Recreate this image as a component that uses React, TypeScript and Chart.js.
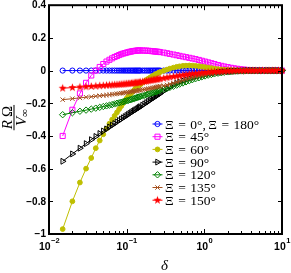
import React, { useEffect, useRef } from "react";
import { Chart, registerables } from "chart.js";
import { drawPoint } from "chart.js/helpers";

Chart.register(...registerables);

const W = 291;
const H = 273;

// delta (x values)
const delta = [
  0.015, 0.02, 0.025, 0.03, 0.035, 0.04, 0.045, 0.05, 0.055, 0.06, 0.065, 0.07, 0.075, 0.08,
  0.085, 0.09, 0.095, 0.1, 0.105, 0.11, 0.115, 0.12, 0.125, 0.13, 0.135, 0.14, 0.145, 0.15,
  0.16, 0.17, 0.18, 0.19, 0.2, 0.21, 0.22, 0.23, 0.24, 0.25, 0.26, 0.27,
  0.3, 0.33, 0.36, 0.4, 0.44, 0.48, 0.53, 0.58, 0.64, 0.7,
  0.77, 0.85, 0.93, 1.02, 1.12, 1.23, 1.35, 1.5, 1.65, 1.8,
  2, 2.2, 2.4, 2.65, 2.9, 3.2, 3.5, 3.85, 4.2, 4.6,
  5.1, 5.6, 6.2, 6.8, 7.5, 8.2, 9, 10,
];

const xi0 = [
  0, 0, 0, 0, 0, 0, 0, 0, 0, 0, 0, 0, 0, 0, 0, 0, 0, 0, 0, 0, 0, 0, 0, 0, 0, 0, 0, 0,
  0, 0, 0, 0, 0, 0, 0, 0, 0, 0, 0, 0,
  0, 0, 0, 0, 0, 0, 0, 0, 0, 0,
  0, 0, 0, 0, 0, 0, 0, 0, 0, 0,
  0, 0, 0, 0, 0, 0, 0, 0, 0, 0,
  0, 0, 0, 0, 0, 0, 0, 0,
];

const xi45 = [
  -0.4, -0.24, -0.14, -0.075, -0.03, 0.0, 0.022, 0.04, 0.055, 0.066, 0.075, 0.083, 0.089, 0.095,
  0.1, 0.104, 0.107, 0.11, 0.113, 0.115, 0.117, 0.119, 0.12, 0.121, 0.122, 0.123, 0.123, 0.123,
  0.123, 0.122, 0.122, 0.121, 0.12, 0.119, 0.118, 0.117, 0.116, 0.115, 0.114, 0.113,
  0.11, 0.106, 0.102, 0.098, 0.094, 0.09, 0.086, 0.082, 0.078, 0.074,
  0.07, 0.065, 0.06, 0.055, 0.05, 0.045, 0.04, 0.034, 0.029, 0.025,
  0.021, 0.017, 0.014, 0.011, 0.008, 0.006, 0.004, 0.003, 0.002, 0.001,
  0, 0, 0, 0, 0, 0, 0, 0,
];

const xi60 = [
  -0.97, -0.8, -0.685, -0.6, -0.535, -0.475, -0.428, -0.39, -0.355, -0.325, -0.3, -0.277, -0.256, -0.236,
  -0.218, -0.2, -0.184, -0.17, -0.158, -0.147, -0.137, -0.128, -0.119, -0.111, -0.103, -0.096, -0.09, -0.084,
  -0.074, -0.065, -0.057, -0.05, -0.043, -0.037, -0.031, -0.026, -0.021, -0.017, -0.013, -0.009,
  -0.001, 0.006, 0.012, 0.018, 0.023, 0.026, 0.029, 0.03, 0.031, 0.03,
  0.029, 0.027, 0.024, 0.021, 0.018, 0.015, 0.012, 0.009, 0.007, 0.005,
  0.004, 0.003, 0.002, 0.001, 0, 0, 0, 0, 0, 0,
  0, 0, 0, 0, 0, 0, 0, 0,
];

const xi90 = [
  -0.555, -0.51, -0.475, -0.447, -0.423, -0.403, -0.385, -0.37, -0.357, -0.345, -0.334, -0.324, -0.314, -0.305,
  -0.297, -0.289, -0.282, -0.275, -0.268, -0.262, -0.256, -0.25, -0.245, -0.24, -0.235, -0.23, -0.225, -0.221,
  -0.212, -0.204, -0.196, -0.188, -0.181, -0.174, -0.168, -0.162, -0.156, -0.15, -0.145, -0.14,
  -0.125, -0.112, -0.1, -0.088, -0.078, -0.07, -0.062, -0.055, -0.048, -0.042,
  -0.037, -0.032, -0.028, -0.024, -0.021, -0.018, -0.015, -0.012, -0.01, -0.008,
  -0.006, -0.005, -0.004, -0.003, -0.002, -0.001, 0, 0, 0, 0,
  0, 0, 0, 0, 0, 0, 0, 0,
];

const xi120 = [
  -0.27, -0.258, -0.249, -0.242, -0.236, -0.23, -0.225, -0.22, -0.216, -0.212, -0.208, -0.204, -0.2, -0.197,
  -0.194, -0.191, -0.188, -0.185, -0.182, -0.179, -0.176, -0.173, -0.171, -0.168, -0.166, -0.163, -0.161, -0.159,
  -0.155, -0.151, -0.147, -0.143, -0.14, -0.137, -0.134, -0.131, -0.128, -0.125, -0.122, -0.12,
  -0.115, -0.109, -0.103, -0.096, -0.089, -0.083, -0.076, -0.069, -0.062, -0.056,
  -0.05, -0.044, -0.038, -0.033, -0.028, -0.024, -0.02, -0.016, -0.013, -0.01,
  -0.008, -0.006, -0.004, -0.003, -0.002, -0.001, 0, 0, 0, 0,
  0, 0, 0, 0, 0, 0, 0, 0,
];

const xi135 = [
  -0.178, -0.172, -0.167, -0.163, -0.16, -0.157, -0.154, -0.152, -0.15, -0.148, -0.146, -0.144, -0.142, -0.14,
  -0.138, -0.137, -0.135, -0.134, -0.132, -0.131, -0.129, -0.128, -0.126, -0.125, -0.123, -0.122, -0.12, -0.119,
  -0.117, -0.115, -0.113, -0.111, -0.109, -0.107, -0.105, -0.103, -0.101, -0.099, -0.097, -0.095,
  -0.092, -0.088, -0.083, -0.077, -0.071, -0.066, -0.06, -0.054, -0.049, -0.044,
  -0.039, -0.034, -0.03, -0.026, -0.022, -0.019, -0.016, -0.013, -0.01, -0.008,
  -0.006, -0.004, -0.003, -0.002, -0.001, 0, 0, 0, 0, 0,
  0, 0, 0, 0, 0, 0, 0, 0,
];

const xi150 = [
  -0.108, -0.104, -0.101, -0.099, -0.097, -0.095, -0.093, -0.092, -0.09, -0.089, -0.088, -0.087, -0.086, -0.085,
  -0.084, -0.083, -0.082, -0.081, -0.08, -0.079, -0.078, -0.077, -0.076, -0.075, -0.074, -0.073, -0.072, -0.071,
  -0.069, -0.067, -0.065, -0.063, -0.061, -0.059, -0.057, -0.056, -0.054, -0.053, -0.051, -0.05,
  -0.047, -0.043, -0.04, -0.037, -0.034, -0.031, -0.028, -0.025, -0.022, -0.02,
  -0.018, -0.016, -0.014, -0.012, -0.01, -0.009, -0.007, -0.006, -0.005, -0.004,
  -0.003, -0.002, -0.001, 0, 0, 0, 0, 0, 0, 0,
  0, 0, 0, 0, 0, 0, 0, 0,
];

const seriesValues = [xi0, xi45, xi60, xi90, xi120, xi135, xi150];
const seriesLabels = [
  "Ξ = 0°, Ξ = 180°",
  "Ξ = 45°",
  "Ξ = 60°",
  "Ξ = 90°",
  "Ξ = 120°",
  "Ξ = 135°",
  "Ξ = 150°",
];

const yTicks = [-1, -0.8, -0.6, -0.4, -0.2, 0, 0.2, 0.4];
const xMajorExponents = [-2, -1, 0, 1];

function makeStar(color: string, r: number): HTMLCanvasElement {
  const s = Math.ceil(r * 2) + 2;
  const c = document.createElement("canvas");
  c.width = s;
  c.height = s;
  const g = c.getContext("2d")!;
  g.fillStyle = color;
  g.beginPath();
  for (let i = 0; i < 10; i++) {
    const rr = i % 2 ? r * 0.42 : r;
    const a = -Math.PI / 2 + (i * Math.PI) / 5;
    g.lineTo(s / 2 + rr * Math.cos(a), s / 2 + rr * Math.sin(a));
  }
  g.closePath();
  g.fill();
  return c;
}

function fmtY(v: number): string {
  if (v === 0) return "0";
  const s = Math.abs(v) === 1 ? "1" : Math.abs(v).toFixed(1);
  return (v < 0 ? "\u2212" : "") + s;
}

export default function App() {
  const ref = useRef<HTMLCanvasElement>(null);

  useEffect(() => {
    const canvas = ref.current!;
    const star = makeStar("#ff0000", 4.2);
    const styles: any[] = [
      { color: "#0000ff", pointStyle: "circle", radius: 2.6, fill: false, rotation: 0 },
      { color: "#ff00ff", pointStyle: "rect", radius: 3.6, fill: false, rotation: 0 },
      { color: "#bfbf00", pointStyle: "circle", radius: 2.4, fill: true, rotation: 0 },
      { color: "#000000", pointStyle: "triangle", radius: 3.4, fill: false, rotation: 90 },
      { color: "#008000", pointStyle: "rectRot", radius: 3.2, fill: false, rotation: 0 },
      { color: "#a5501e", pointStyle: "crossRot", radius: 3.1, fill: false, rotation: 0 },
      { color: "#ff0000", pointStyle: star, radius: 4.2, fill: true, rotation: 0 },
    ];

    const datasets = seriesValues.map((vals, i) => {
      const st = styles[i];
      return {
        label: seriesLabels[i],
        data: delta.map((d, k) => ({ x: d, y: vals[k] })),
        showLine: true,
        borderColor: st.color,
        borderWidth: 1,
        backgroundColor: st.color,
        pointStyle: st.pointStyle,
        pointRadius: st.radius,
        pointRotation: st.rotation,
        pointBorderColor: st.color,
        pointBorderWidth: 1,
        pointBackgroundColor: st.fill ? st.color : "rgba(0,0,0,0)",
        tension: 0,
        order: 7 - i,
        clip: 8,
      };
    });

    const axesPlugin = {
      id: "matlabAxes",
      afterDraw(chart: any) {
        const { ctx, chartArea } = chart;
        const { left, right, top, bottom } = chartArea;
        const xs = chart.scales.x;
        const ys = chart.scales.y;
        ctx.save();
        ctx.strokeStyle = "#000";
        ctx.fillStyle = "#000";

        // ticks
        ctx.lineWidth = 1;
        ctx.beginPath();
        for (const e of xMajorExponents) {
          const px = Math.round(xs.getPixelForValue(Math.pow(10, e))) + 0.5;
          ctx.moveTo(px, bottom);
          ctx.lineTo(px, bottom - 5);
          ctx.moveTo(px, top);
          ctx.lineTo(px, top + 5);
          if (e < 1) {
            for (let m = 2; m <= 9; m++) {
              const pm = Math.round(xs.getPixelForValue(m * Math.pow(10, e))) + 0.5;
              ctx.moveTo(pm, bottom);
              ctx.lineTo(pm, bottom - 3);
              ctx.moveTo(pm, top);
              ctx.lineTo(pm, top + 3);
            }
          }
        }
        for (const v of yTicks) {
          const py = Math.round(ys.getPixelForValue(v)) + 0.5;
          ctx.moveTo(left, py);
          ctx.lineTo(left + 4, py);
          ctx.moveTo(right, py);
          ctx.lineTo(right - 4, py);
        }
        ctx.stroke();

        // box
        ctx.lineWidth = 2;
        ctx.strokeRect(left, top, right - left, bottom - top);

        // y tick labels
        ctx.font = 'bold 10px "Liberation Sans", Arial, sans-serif';
        ctx.textAlign = "right";
        ctx.textBaseline = "middle";
        for (const v of yTicks) {
          const py = ys.getPixelForValue(v);
          ctx.fillText(fmtY(v), left - 3, py + 0.5);
        }

        // x tick labels 10^e
        ctx.textBaseline = "alphabetic";
        ctx.textAlign = "left";
        for (const e of xMajorExponents) {
          const px = xs.getPixelForValue(Math.pow(10, e));
          const base = "10";
          const sup = e < 0 ? "\u2212" + Math.abs(e) : String(e);
          ctx.font = 'bold 10.5px "Liberation Sans", Arial, sans-serif';
          const wb = ctx.measureText(base).width;
          ctx.font = 'bold 7.5px "Liberation Sans", Arial, sans-serif';
          const ws = ctx.measureText(sup).width;
          const x0 = px - (wb + ws) / 2;
          ctx.font = 'bold 10.5px "Liberation Sans", Arial, sans-serif';
          ctx.fillText(base, x0, bottom + 16);
          ctx.font = 'bold 7.5px "Liberation Sans", Arial, sans-serif';
          ctx.fillText(sup, x0 + wb + 0.5, bottom + 9);
        }

        // x title
        ctx.font = 'italic 15px "Liberation Serif", "DejaVu Serif", serif';
        ctx.textAlign = "center";
        ctx.fillText("δ", (left + right) / 2 - 1, bottom + 36);

        // y title (fraction, rotated)
        ctx.save();
        ctx.translate(14, (top + bottom) / 2 - 2);
        ctx.rotate(-Math.PI / 2);
        ctx.textAlign = "left";
        const fIt = 'italic 15px "Liberation Serif", serif';
        const fUp = '15px "Liberation Serif", serif';
        const fSub = '11px "Liberation Serif", serif';
        ctx.font = fIt;
        const wR = ctx.measureText("R").width;
        ctx.font = fUp;
        const wO = ctx.measureText("Ω").width;
        const numW = wR + 3 + wO;
        ctx.font = fIt;
        ctx.fillText("R", -numW / 2, -2);
        ctx.font = fUp;
        ctx.fillText("Ω", -numW / 2 + wR + 3, -2);
        ctx.font = fIt;
        const wV = ctx.measureText("V").width;
        ctx.font = fSub;
        const wI = ctx.measureText("∞").width;
        const denW = wV + wI;
        ctx.font = fIt;
        ctx.fillText("V", -denW / 2, 12);
        ctx.font = fSub;
        ctx.fillText("∞", -denW / 2 + wV, 14);
        const barW = Math.max(numW, denW) + 2;
        ctx.fillRect(-barW / 2, -0.5, barW, 1);
        ctx.restore();

        // legend
        const fLeg = '13.5px "Liberation Serif", "DejaVu Serif", serif';
        for (let i = 0; i < seriesLabels.length; i++) {
          const st = styles[i];
          const yc = 124 + i * 12.7;
          ctx.strokeStyle = st.color;
          ctx.lineWidth = 1;
          ctx.beginPath();
          ctx.moveTo(152.5, yc);
          ctx.lineTo(162.5, yc);
          ctx.stroke();
          ctx.fillStyle = st.fill ? st.color : "rgba(0,0,0,0)";
          drawPoint(
            ctx,
            {
              pointStyle: st.pointStyle,
              rotation: st.rotation,
              radius: st.radius,
              borderWidth: 1,
            } as any,
            157.5,
            yc
          );
          ctx.fillStyle = "#000";
          ctx.font = fLeg;
          ctx.textAlign = "left";
          ctx.textBaseline = "alphabetic";
          const tokens = seriesLabels[i].split(" ");
          let tx = 165;
          for (const t of tokens) {
            ctx.fillText(t, tx, yc + 4.5);
            tx += ctx.measureText(t).width + (t.endsWith(",") ? 2.5 : 4.5);
          }
        }
        ctx.restore();
      },
    };

    const chart = new Chart(canvas, {
      type: "scatter",
      data: { datasets: datasets as any },
      options: {
        responsive: false,
        animation: false,
        events: [],
        layout: { padding: { left: 49, right: 9, top: 5, bottom: 39 } },
        scales: {
          x: { type: "logarithmic", min: 0.01, max: 10, display: false },
          y: { type: "linear", min: -1, max: 0.4, display: false },
        },
        plugins: { legend: { display: false }, tooltip: { enabled: false } },
      },
      plugins: [axesPlugin],
    });
    return () => chart.destroy();
  }, []);

  return (
    <div style={{ position: "fixed", left: 0, top: 0, width: W, height: H, background: "#fff" }}>
      <canvas ref={ref} width={W} height={H} style={{ display: "block", width: W, height: H }} />
    </div>
  );
}
